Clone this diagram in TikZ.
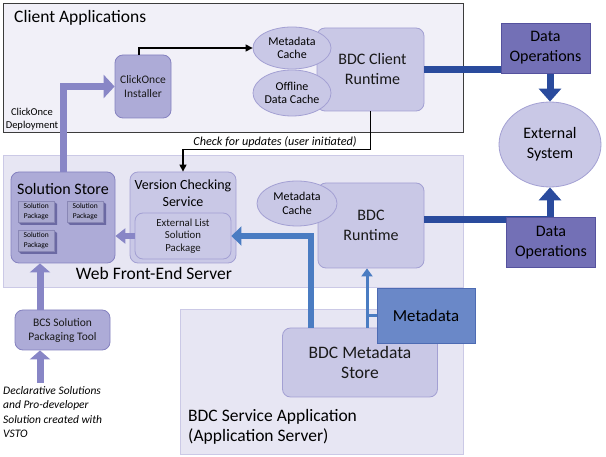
\documentclass[tikz,border=0pt]{standalone}
\usepackage{fontspec}
\setmainfont{Carlito}
\usetikzlibrary{arrows.meta,shapes.geometric}
\definecolor{clientbg}{HTML}{F1F0F8}
\definecolor{clientbd}{HTML}{3C3C3C}
\definecolor{webbg}{HTML}{E7E6F3}
\definecolor{webbd}{HTML}{CBC9E6}
\definecolor{midfill}{HTML}{C9C8E6}
\definecolor{midbd}{HTML}{A3A0D3}
\definecolor{darkfill}{HTML}{ADABD7}
\definecolor{darkbd}{HTML}{8582C0}
\definecolor{lav}{HTML}{8886C6}
\definecolor{opsfill}{HTML}{7370B6}
\definecolor{opsbd}{HTML}{55529E}
\definecolor{dblue}{HTML}{2A4B9D}
\definecolor{mblue}{HTML}{4A7CC2}
\definecolor{metafill}{HTML}{6A88C8}
\definecolor{metabd}{HTML}{4D6BB3}
\definecolor{pkgfill}{HTML}{A9A8CF}
\definecolor{pkgside}{HTML}{6B69A3}
\newcommand\solpkgdraw[3]{%
  \fill[pkgside] (#2+35,#3) -- (#2+39,#3+3) -- (#2+39,#3+24) -- (#2+3,#3+24) -- (#2,#3+21) -- cycle;
  \node[pkg, anchor=north west] (#1) at (#2,#3) {Solution\\Package};
}
\begin{document}
\begin{tikzpicture}[x=1pt,y=-1pt,
  t17/.style={font=\fontsize{17.5}{20}\selectfont},
  t16/.style={font=\fontsize{16}{20}\selectfont},
  t14/.style={font=\fontsize{14}{17}\selectfont},
  t11/.style={font=\fontsize{11.5}{14}\selectfont},
  t10/.style={font=\fontsize{10.5}{13}\selectfont},
  region/.style={draw=webbd, fill=webbg, line width=0.8pt, inner sep=0pt},
  box/.style={rounded corners=8pt, draw=midbd, fill=midfill, line width=0.8pt, align=center, inner sep=0pt, text=black!90},
  dbox/.style={box, draw=darkbd, fill=darkfill},
  ell/.style={ellipse, draw=midbd, fill=midfill, line width=0.8pt, align=center, inner sep=0pt, font=\fontsize{12}{13.5}\selectfont},
  ops/.style={draw=opsbd, fill=opsfill, line width=0.8pt, align=center, inner sep=0pt, t16, minimum width=89pt, minimum height=50pt},
  pkg/.style={draw=pkgside!80, fill=pkgfill, line width=0.4pt, align=center, inner sep=0pt, minimum width=36pt, minimum height=21pt, font=\fontsize{7.5}{9.5}\selectfont},
  blackarrow/.style={draw=black, line width=1.2pt, -{Triangle[width=7pt,length=7pt]}},
  lavthick/.style={draw=lav, line width=7pt, -{Triangle[width=23pt,length=11pt]}},
  lavmid/.style={draw=lav, line width=7pt, -{Triangle[width=20pt,length=9pt]}},
  lavthin/.style={draw=lav, line width=5.5pt, -{Triangle[width=15pt,length=10pt]}},
  dbluearrow/.style={draw=dblue, line width=7pt, -{Triangle[width=22pt,length=13pt]}},
  mbluearrow/.style={draw=mblue, line width=6.5pt, -{Triangle[width=19pt,length=10pt]}},
  mbluethin/.style={draw=mblue, line width=3pt, -{Triangle[width=11pt,length=8pt]}},
  mblueline/.style={draw=mblue, line width=3pt}
]
\path[use as bounding box, fill=white] (0,0) rectangle (606,457);

% regions
\node[region, draw=clientbd, fill=clientbg, minimum width=460pt, minimum height=129pt] (client) at (233,67.5) {};
\node[t17, anchor=west, inner sep=0pt] (clientlbl) at (14,18) {Client Applications};
\node[region, minimum width=460pt, minimum height=132pt] (web) at (233,221) {};
\node[t17, inner sep=0pt] (weblbl) at (154,273) {Web Front-End Server};
\node[region, minimum width=283pt, minimum height=145pt] (svc) at (321.5,381.5) {};
\node[t17, anchor=west, align=left, inner sep=0pt] (svclbl) at (188,427) {BDC Service Application\\(Application Server)};

% client side
\node[dbox, t11, minimum width=56pt, minimum height=63pt] (clickonce) at (143,86.5) {ClickOnce\\Installer};
\node[box, t16, minimum width=107pt, minimum height=83pt] (bdcclient) at (370.5,69.5) {\hspace*{4pt}BDC Client\\\hspace*{4pt}Runtime};
\node[ell, minimum width=78pt, minimum height=42pt] (mdcache1) at (292,48) {Metadata\\Cache};
\node[ell, minimum width=78pt, minimum height=46pt] (offline) at (292,93) {Offline\\Data Cache};
\node[t10, align=center, inner sep=0pt] (deploylbl) at (32,119.5) {ClickOnce\\Deployment};

% external
\node[ell, t16, minimum width=102pt, minimum height=85pt] (extsys) at (550,144.5) {External\\System};

% web front end
\node[dbox, minimum width=104pt, minimum height=91pt] (solstore) at (63,217.5) {};
\node[t16, inner sep=0pt] (solstorelbl) at (63,189) {Solution Store};
\solpkgdraw{pkgA}{18}{201}
\solpkgdraw{pkgB}{67}{201}
\solpkgdraw{pkgC}{18}{230}
\node[box, minimum width=106pt, minimum height=91pt] (vcs) at (183,217.5) {};
\node[t14, align=center, inner sep=0pt] (vcslbl) at (183,193.5) {Version Checking\\Service};
\node[box, font=\fontsize{10.8}{12.5}\selectfont, minimum width=96pt, minimum height=46pt] (extlist) at (183,236) {External List\\Solution\\Package};
\node[box, t16, minimum width=106pt, minimum height=85pt] (bdcrt) at (371,225.5) {BDC\\Runtime};
\node[ell, minimum width=80pt, minimum height=45pt] (mdcache2) at (297,203.5) {Metadata\\Cache};

% service app
\node[box, t17, minimum width=155pt, minimum height=69pt] (store) at (360,362.5) {BDC Metadata\\Store};
\node[dbox, t11, minimum width=95pt, minimum height=40pt] (bcs) at (62.5,330) {BCS Solution\\Packaging Tool};
\node[font=\fontsize{11.5}{14.5}\selectfont\itshape, anchor=north west, align=left, inner sep=0pt] (decl) at (3,386) {Declarative Solutions\\and Pro-developer\\Solution created with\\VSTO};
\coordinate (declsrc) at (40,383);

% connectors
\draw[blackarrow] ([xshift=-4pt]clickonce.north) |- (mdcache1.west);
\draw[blackarrow] (bdcclient.south) -- ++(0,38.5) -| (vcs.north);
\node[font=\fontsize{12.2}{14}\selectfont\itshape, inner sep=0pt] (checklbl) at (275,142) {Check for updates (user initiated)};

\draw[dbluearrow] (bdcclient.east) -| (extsys.north);
\draw[dbluearrow] ([yshift=6pt]bdcrt.east) -| (extsys.south);
\node[ops] (ops1) at (545.5,48) {Data\\Operations};
\node[ops] (ops2) at (551,242.5) {Data\\Operations};

\draw[lavthick] (solstore.north) |- (clickonce.west);
\draw[lavthin] (extlist.west) -- (extlist.west -| solstore.east);
\draw[lavmid] ([xshift=-22.5pt]bcs.north) -- ([xshift=-22.5pt]bcs.north |- solstore.south);
\draw[lavmid] (declsrc) -- (declsrc |- bcs.south);

\draw[mbluearrow] ([xshift=-49pt]store.north) |- (extlist.east);
\node[draw=metabd, fill=metafill, line width=0.8pt, font=\fontsize{16.8}{20}\selectfont, inner sep=0pt, minimum width=98pt, minimum height=55pt] (metadata) at (426,315.5) {Metadata};
\coordinate (thinsrc) at ([xshift=7pt]store.north);
\draw[mbluethin] (thinsrc) -- (thinsrc |- bdcrt.south);
\draw[mblueline] (metadata.west) -- (metadata.west -| thinsrc);
\end{tikzpicture}
\end{document}
